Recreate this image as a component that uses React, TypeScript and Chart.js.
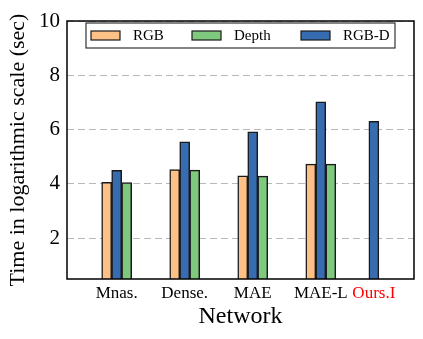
import React, { useEffect, useRef } from 'react';
import { Chart, registerables } from 'chart.js';

Chart.register(...registerables);

const categories = ['Mnas.', 'Dense.', 'MAE', 'MAE-L', 'Ours.I'];
const categoryX = [0, 1, 2, 3, 3.78];
const rgbValues = [4.06, 4.53, 4.3, 4.73, null];
const rgbdValues = [4.5, 5.55, 5.92, 7.02, 6.31];
const depthValues = [4.05, 4.51, 4.29, 4.73, null];
const yTickValues = [2, 4, 6, 8, 10];
const legendOrder = ['RGB', 'Depth', 'RGB-D'];
const highlightCategory = 'Ours.I';

const FONT = '"Liberation Serif", "Times New Roman", serif';

const frameLegendPlugin = {
  id: 'frameLegend',
  afterDraw(chart: any) {
    const { ctx, chartArea: a } = chart;
    ctx.save();
    ctx.strokeStyle = '#000';
    ctx.lineWidth = 1.5;
    ctx.strokeRect(a.left, a.top, a.right - a.left, a.bottom - a.top);

    const bx = a.left + 19;
    const by = a.top + 2;
    const bw = 309;
    const bh = 25;
    ctx.fillStyle = '#fff';
    ctx.fillRect(bx, by, bw, bh);
    ctx.strokeStyle = '#333';
    ctx.lineWidth = 1.2;
    ctx.strokeRect(bx, by, bw, bh);
    const cols = [5, 106, 215];
    ctx.font = `15px ${FONT}`;
    ctx.textBaseline = 'middle';
    ctx.textAlign = 'left';
    legendOrder.forEach((label, i) => {
      const ds = chart.data.datasets.find((d: any) => d.label === label);
      const x = bx + cols[i];
      const cy = by + bh / 2;
      ctx.fillStyle = ds.backgroundColor;
      ctx.fillRect(x, cy - 4.5, 29, 9);
      ctx.strokeStyle = '#1a1a1a';
      ctx.lineWidth = 1.2;
      ctx.strokeRect(x, cy - 4.5, 29, 9);
      ctx.fillStyle = '#000';
      ctx.fillText(label, x + 42, cy + 0.5);
    });
    ctx.restore();
  },
};

function makeDataset(label: string, values: (number | null)[], color: string) {
  return {
    label,
    data: categoryX.map((x, i) => ({ x, y: values[i] })),
    backgroundColor: color,
    borderColor: '#1a1a1a',
    borderWidth: 1.5,
    barThickness: 10,
    borderSkipped: 'start',
  };
}

export default function App() {
  const ref = useRef<HTMLCanvasElement>(null);

  useEffect(() => {
    if (!ref.current) return;
    const chart = new Chart(ref.current, {
      type: 'bar',
      data: {
        datasets: [
          makeDataset('RGB', rgbValues, '#fdc086'),
          makeDataset('RGB-D', rgbdValues, '#386cb0'),
          makeDataset('Depth', depthValues, '#7fc97f'),
        ] as any,
      },
      options: {
        animation: false,
        responsive: false,
        devicePixelRatio: 1,
        layout: { padding: { top: 21, right: 9, left: 0, bottom: 0 } },
        plugins: { legend: { display: false }, tooltip: { enabled: false } },
        scales: {
          x: {
            type: 'linear',
            min: -0.73,
            max: 4.37,
            offset: false,
            afterBuildTicks: (s: any) => {
              s.ticks = categoryX.map((v) => ({ value: v }));
            },
            afterFit: (s: any) => {
              s.height = 60;
            },
            grid: { display: false, drawTicks: false },
            border: { display: false },
            ticks: {
              autoSkip: false,
              maxRotation: 0,
              padding: 4,
              font: { family: FONT, size: 17 },
              color: (c: any) => (categories[c.index] === highlightCategory ? '#ff0000' : '#000'),
              callback: (v: any) => categories[categoryX.indexOf(Number(v))] ?? '',
            },
            title: {
              display: true,
              text: 'Network',
              color: '#000',
              font: { family: FONT, size: 24 },
              padding: { top: 0, bottom: 8 },
            },
          },
          y: {
            type: 'linear',
            min: 0.5,
            max: 10,
            beginAtZero: false,
            afterBuildTicks: (s: any) => {
              s.ticks = yTickValues.map((v) => ({ value: v }));
            },
            afterFit: (s: any) => {
              s.width = 67;
            },
            grid: { color: '#b8b8b8', lineWidth: 1, drawTicks: false },
            border: { display: false, dash: [7, 4] },
            ticks: {
              padding: 7,
              color: '#000',
              font: { family: FONT, size: 21 },
            },
            title: {
              display: true,
              text: 'Time in logarithmic scale (sec)',
              color: '#000',
              font: { family: FONT, size: 22 },
              padding: { top: 5, bottom: 0 },
            },
          },
        },
      } as any,
      plugins: [frameLegendPlugin],
    });
    return () => chart.destroy();
  }, []);

  return (
    <div style={{ position: 'fixed', left: 0, top: 0, width: 423, height: 339, background: '#fff' }}>
      <canvas ref={ref} width={423} height={339} />
    </div>
  );
}
